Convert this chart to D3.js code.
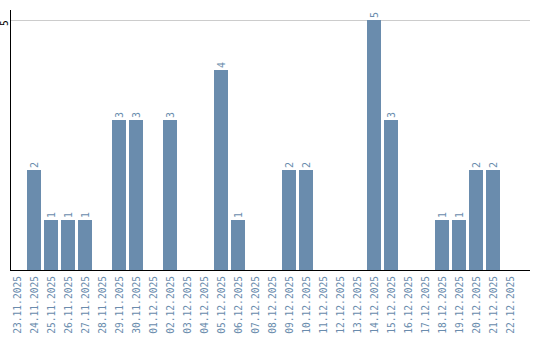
<!DOCTYPE html>
<html>
<head>
<meta charset="utf-8">
<script src="https://cdn.jsdelivr.net/npm/d3@7"></script>
<style>
  body { margin: 0; background: #fff; }
  text { font-family: "DejaVu Sans Mono", monospace; }
</style>
</head>
<body>
<div id="chart"></div>
<script>
// dates and counts
var days = ["23.11.2025", "24.11.2025", "25.11.2025", "26.11.2025", "27.11.2025", "28.11.2025",
    "29.11.2025", "30.11.2025", "01.12.2025", "02.12.2025", "03.12.2025", "04.12.2025",
    "05.12.2025", "06.12.2025", "07.12.2025", "08.12.2025", "09.12.2025", "10.12.2025",
    "11.12.2025", "12.12.2025", "13.12.2025", "14.12.2025", "15.12.2025", "16.12.2025",
    "17.12.2025", "18.12.2025", "19.12.2025", "20.12.2025", "21.12.2025", "22.12.2025"];
var counts = [0, 2, 1, 1, 1, 0, 3, 3, 0, 3, 0, 0, 4, 1, 0, 0, 2, 2, 0, 0, 0, 5, 3, 0, 0, 1, 1, 2, 2, 0];
var yTicks = [5];

var svgWidth = 540;
var svgHeight = 340;
var barColor = "#6a8cad";

var svg = d3.select("#chart")
    .append("svg")
    .attr("width", svgWidth)
    .attr("height", svgHeight);

var x = d3.scaleBand()
    .domain(days)
    .range([10, 517])
    .paddingInner(3 / 17)
    .paddingOuter(0);

var y = d3.scaleLinear()
    .domain([0, 5])
    .range([270, 20]);

// grid line
svg.selectAll(".grid")
    .data(yTicks)
    .enter()
    .append("line")
    .attr("x1", 11)
    .attr("x2", 530)
    .attr("y1", d => y(d) + 0.5)
    .attr("y2", d => y(d) + 0.5)
    .attr("stroke", "#cccccc")
    .attr("stroke-width", 1);

// bars
svg.selectAll(".bar")
    .data(counts)
    .enter()
    .append("rect")
    .attr("x", (d, i) => x(days[i]))
    .attr("y", d => y(d))
    .attr("width", x.bandwidth())
    .attr("height", d => y(0) - y(d))
    .attr("fill", barColor);

// value labels above bars
counts.forEach(function(d, i) {
    if (d <= 0) return;
    var cx = x(days[i]) + x.bandwidth() / 2 + 3.5;
    svg.append("text")
        .attr("transform", `translate(${cx}, ${y(d) - 2}) rotate(-90)`)
        .attr("text-anchor", "start")
        .attr("font-size", "10px")
        .attr("fill", barColor)
        .text(d);
});

// x labels
svg.append("g")
    .selectAll("text")
    .data(days)
    .enter()
    .append("text")
    .attr("transform", d => `translate(${x(d) + x.bandwidth() / 2 + 3.5}, 276) rotate(-90)`)
    .attr("text-anchor", "end")
    .attr("font-size", "9.6px")
    .attr("fill", barColor)
    .text(d => d);

// y tick labels
svg.selectAll(".ytick")
    .data(yTicks)
    .enter()
    .append("text")
    .attr("transform", d => `translate(7.5, ${y(d) + 3}) rotate(-90)`)
    .attr("text-anchor", "middle")
    .attr("font-size", "9.6px")
    .attr("fill", "#000")
    .text(d => d);

// axis lines
svg.append("line")
    .attr("x1", 10.5).attr("x2", 10.5)
    .attr("y1", 10).attr("y2", 270.5)
    .attr("stroke", "#000");

svg.append("line")
    .attr("x1", 10).attr("x2", 530)
    .attr("y1", 270.5).attr("y2", 270.5)
    .attr("stroke", "#000");
</script>
</body>
</html>
